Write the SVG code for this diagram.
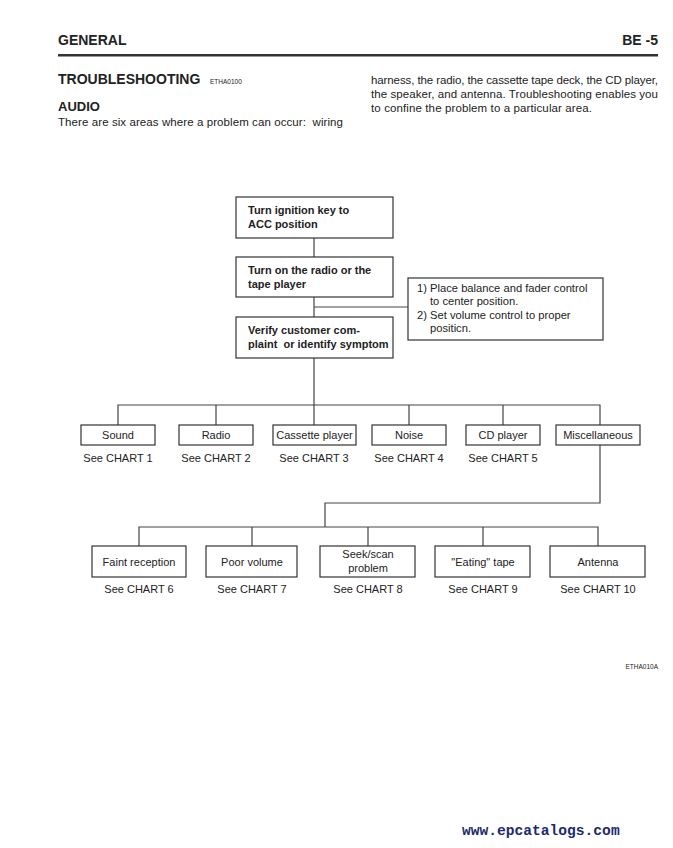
<svg xmlns="http://www.w3.org/2000/svg" width="673" height="848" viewBox="0 0 673 848">
<style>
  text { font-family: "Liberation Sans", Arial, sans-serif; fill: #222; white-space: pre; }
  .hdr { font-size: 14px; font-weight: bold; }
  .body { font-size: 11.5px; }
  .bx { fill: #fff; stroke: #333; stroke-width: 1.2; }
  .bt { font-size: 11px; font-weight: bold; }
  .lt { font-size: 11px; text-anchor: middle; }
  .nt { font-size: 11.2px; }
  .ln { fill: none; stroke: #444; stroke-width: 1.2; }
</style>
<rect width="673" height="848" fill="#fff"/>
<g id="header">
  <text class="hdr" x="58" y="45">GENERAL</text>
  <text class="hdr" x="658" y="45" text-anchor="end">BE -5</text>
  <rect x="58" y="54" width="600" height="2.5" fill="#333"/>
  <text class="hdr" x="58" y="84">TROUBLESHOOTING</text>
  <text x="210" y="84" style="font-size:6.5px">ETHA0100</text>
  <text x="58" y="111" style="font-size:13px;font-weight:bold">AUDIO</text>
  <text class="body" x="58" y="126" textLength="285" lengthAdjust="spacing">There are six areas where a problem can occur:  wiring</text>
  <text class="body" x="371" y="84" textLength="287" lengthAdjust="spacing">harness, the radio, the cassette tape deck, the CD player,</text>
  <text class="body" x="371" y="98" textLength="287" lengthAdjust="spacing">the speaker, and antenna. Troubleshooting enables you</text>
  <text class="body" x="371" y="112" textLength="221" lengthAdjust="spacing">to confine the problem to a particular area.</text>
</g>
<g id="connectors">
  <path class="ln" d="M314 238V257 M314 297V317 M314 358V405 M314 307H408"/>
  <path class="ln" d="M118 425V405H600V425 M216 405V425 M314 405V425 M409 405V425 M503 405V425"/>
  <path class="ln" d="M600 445V503H325V527 M139 546V527H598V546 M252 527V546 M368 527V546 M483 527V546"/>
</g>
<g id="n1"><rect class="bx" x="236" y="197" width="157" height="41"/>
  <text class="bt" x="248" y="214">Turn ignition key to</text><text class="bt" x="248" y="228">ACC position</text></g>
<g id="n2"><rect class="bx" x="236" y="257" width="157" height="40"/>
  <text class="bt" x="248" y="274">Turn on the radio or the</text><text class="bt" x="248" y="288">tape player</text></g>
<g id="n3"><rect class="bx" x="236" y="317" width="157" height="41"/>
  <text class="bt" x="248" y="334">Verify customer com-</text><text class="bt" x="248" y="348">plaint  or identify symptom</text></g>
<g id="note"><rect class="bx" x="408" y="278" width="195" height="62"/>
  <text class="nt" x="417" y="292">1) Place balance and fader control</text>
  <text class="nt" x="430" y="305">to center position.</text>
  <text class="nt" x="417" y="319">2) Set volume control to proper</text>
  <text class="nt" x="430" y="332">positicn.</text></g>
<g id="sound"><rect class="bx" x="81" y="425" width="74" height="20"/><text class="lt" x="118" y="439">Sound</text><text class="lt" x="118" y="462">See CHART 1</text></g>
<g id="radio"><rect class="bx" x="179" y="425" width="74" height="20"/><text class="lt" x="216" y="439">Radio</text><text class="lt" x="216" y="462">See CHART 2</text></g>
<g id="cassette"><rect class="bx" x="273" y="425" width="83" height="20"/><text class="lt" x="314.5" y="439">Cassette player</text><text class="lt" x="314" y="462">See CHART 3</text></g>
<g id="noise"><rect class="bx" x="372" y="425" width="74" height="20"/><text class="lt" x="409" y="439">Noise</text><text class="lt" x="409" y="462">See CHART 4</text></g>
<g id="cd"><rect class="bx" x="466" y="425" width="74" height="20"/><text class="lt" x="503" y="439">CD player</text><text class="lt" x="503" y="462">See CHART 5</text></g>
<g id="misc"><rect class="bx" x="556" y="425" width="84" height="20"/><text class="lt" x="598" y="439">Miscellaneous</text></g>
<g id="faint"><rect class="bx" x="92" y="546" width="94" height="31"/><text class="lt" x="139" y="566">Faint reception</text><text class="lt" x="139" y="593">See CHART 6</text></g>
<g id="poor"><rect class="bx" x="206" y="546" width="91" height="31"/><text class="lt" x="252" y="566">Poor volume</text><text class="lt" x="252" y="593">See CHART 7</text></g>
<g id="seek"><rect class="bx" x="320" y="546" width="95" height="31"/><text class="lt" x="368" y="558">Seek/scan</text><text class="lt" x="368" y="572">problem</text><text class="lt" x="368" y="593">See CHART 8</text></g>
<g id="eating"><rect class="bx" x="435" y="546" width="95" height="31"/><text class="lt" x="483" y="566">"Eating" tape</text><text class="lt" x="483" y="593">See CHART 9</text></g>
<g id="antenna"><rect class="bx" x="550" y="546" width="95" height="31"/><text class="lt" x="598" y="566">Antenna</text><text class="lt" x="598" y="593">See CHART 10</text></g>
<g id="footer">
  <text x="658" y="669" text-anchor="end" style="font-size:6.5px">ETHA010A</text>
  <text x="462" y="835" style="font-family:'Liberation Mono','Courier New',monospace;font-size:14.6px;font-weight:bold;fill:#1c2a6e">www.epcatalogs.com</text>
</g>
</svg>
